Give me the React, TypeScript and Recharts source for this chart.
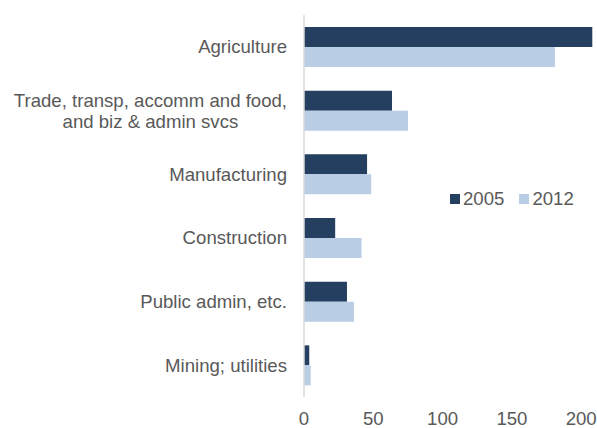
import { Bar, BarChart, XAxis, YAxis } from "recharts";

const categories = [
  "Agriculture",
  "Trade, transp, accomm and food,\nand biz & admin svcs",
  "Manufacturing",
  "Construction",
  "Public admin, etc.",
  "Mining; utilities",
];
const values2005 = [208, 63.5, 45.5, 22.5, 31, 3.8];
const values2012 = [181, 75, 48.5, 41.5, 36, 4.8];
const xTicks = [0, 50, 100, 150, 200];

const seriesNames = ["2005", "2012"];
const seriesColors = ["#243F60", "#B9CDE5"];

const FONT = "'Liberation Sans', Arial, sans-serif";
const FONT_SIZE = 18.6;
const TEXT = "#595959";

const data = categories.map((name, i) => ({
  name,
  y2005: values2005[i],
  y2012: values2012[i],
}));

let measureCtx: CanvasRenderingContext2D | null = null;
function textWidth(s: string) {
  if (!measureCtx) measureCtx = document.createElement("canvas").getContext("2d");
  if (!measureCtx) return s.length * FONT_SIZE * 0.5;
  measureCtx.font = `${FONT_SIZE}px 'Liberation Sans'`;
  return measureCtx.measureText(s).width;
}

function CategoryTick({ x, y, payload }: any) {
  const lines = String(payload.value).split("\n");
  if (lines.length === 1) {
    return (
      <text x={x} y={y} dy="0.355em" textAnchor="end" fill={TEXT} fontSize={FONT_SIZE} fontFamily={FONT}>
        {lines[0]}
      </text>
    );
  }
  const w = Math.max(...lines.map(textWidth));
  const cx = x - w / 2;
  return (
    <text textAnchor="middle" fill={TEXT} fontSize={FONT_SIZE} fontFamily={FONT}>
      {lines.map((line, i) => (
        <tspan key={i} x={cx} y={y + (i - (lines.length - 1) / 2) * 21} dy="0.355em">
          {line}
        </tspan>
      ))}
    </text>
  );
}

// legend sits over the plot, so keep it out of the chart layout
function SeriesLegend() {
  return (
    <div
      style={{
        position: "absolute",
        left: 450,
        top: 188,
        display: "flex",
        alignItems: "center",
        fontFamily: FONT,
        fontSize: FONT_SIZE,
        color: TEXT,
        lineHeight: "22px",
      }}
    >
      {seriesNames.map((name, i) => (
        <span key={name} style={{ display: "flex", alignItems: "center", marginRight: i === 0 ? 15 : 0 }}>
          <span style={{ width: 10, height: 10, background: seriesColors[i], display: "inline-block", marginRight: 3 }} />
          {name}
        </span>
      ))}
    </div>
  );
}

export default function App() {
  return (
    <div style={{ position: "absolute", left: 0, top: 0, width: 597, height: 428, background: "#fff" }}>
      <BarChart
        width={597}
        height={428}
        data={data}
        layout="vertical"
        margin={{ top: 15, right: 4, bottom: 0, left: 0 }}
        barSize={20}
        barGap={0}
      >
        <XAxis
          type="number"
          domain={[0, 208.5]}
          ticks={xTicks}
          axisLine={false}
          tickLine={false}
          tickSize={6}
          tickMargin={9}
          height={31}
          tick={{ fill: TEXT, fontSize: FONT_SIZE, fontFamily: FONT }}
        />
        <YAxis
          type="category"
          dataKey="name"
          width={304}
          axisLine={{ stroke: "#D9D9D9", strokeWidth: 1.5 }}
          tickLine={false}
          tickSize={6}
          tickMargin={11}
          interval={0}
          tick={<CategoryTick />}
        />
        <Bar dataKey="y2005" name={seriesNames[0]} fill={seriesColors[0]} isAnimationActive={false} />
        <Bar dataKey="y2012" name={seriesNames[1]} fill={seriesColors[1]} isAnimationActive={false} />
      </BarChart>
      <SeriesLegend />
    </div>
  );
}
